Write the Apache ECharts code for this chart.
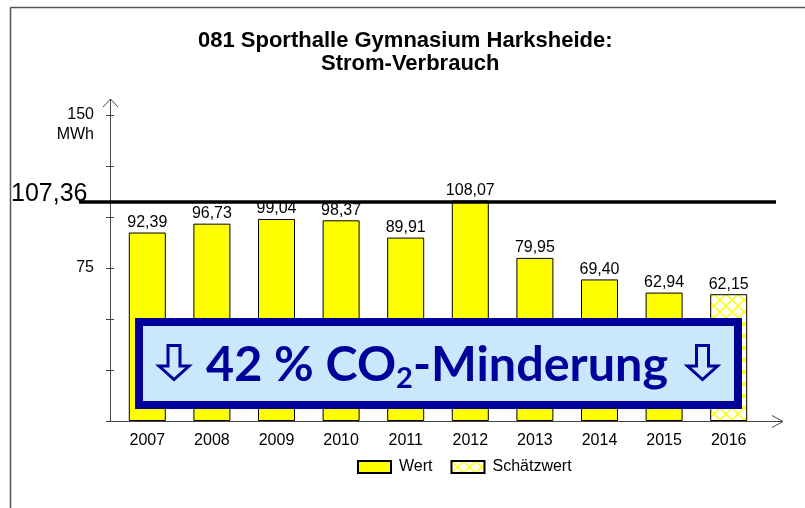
<!DOCTYPE html>
<html>
<head>
<meta charset="utf-8">
<script src="https://cdn.jsdelivr.net/npm/echarts@6/dist/echarts.min.js"></script>
<style>
html, body { margin: 0; padding: 0; background: #fff; }
#main { width: 805px; height: 508px; }
</style>
</head>
<body>
<div id="main"></div>
<script>
var years = ['2007', '2008', '2009', '2010', '2011', '2012', '2013', '2014', '2015', '2016'];
var wert = [92.39, 96.73, 99.04, 98.37, 89.91, 108.07, 79.95, 69.40, 62.94, '-'];
var schaetzwert = ['-', '-', '-', '-', '-', '-', '-', '-', '-', 62.15];
var refValue = 107.36;
var labeledTicks = [75, 150];

var FONT = 'Liberation Sans';
var AXIS = '#454545';
var NAVY = '#00009a';

// gelbe Kreuzschraffur fuer den Schaetzwert
function hatch() {
	var c = document.createElement('canvas');
	c.width = 12; c.height = 12;
	var g = c.getContext('2d');
	g.fillStyle = '#fff';
	g.fillRect(0, 0, 12, 12);
	g.strokeStyle = '#ffff00';
	g.lineWidth = 1.5;
	g.beginPath();
	g.moveTo(0, 0); g.lineTo(12, 12);
	g.moveTo(12, 0); g.lineTo(0, 12);
	g.stroke();
	return c;
}

function fmt(v) {
	return v.toFixed(2).replace('.', ',');
}

// hohler Pfeil nach unten (Deko im Kasten)
function downArrow(cx) {
	return {
		type: 'polygon', z: 101,
		shape: { points: [[cx - 6, 345.5], [cx + 6, 345.5], [cx + 6, 366], [cx + 15, 366], [cx, 379.5], [cx - 15, 366], [cx - 6, 366]] },
		style: { fill: null, stroke: NAVY, lineWidth: 3, lineJoin: 'miter' }
	};
}

var myChart = echarts.init(document.getElementById('main'));

var valueLabel = {
	show: true,
	position: 'top',
	distance: 2,
	fontFamily: FONT,
	fontSize: 16,
	color: '#000',
	formatter: function(p) { return fmt(p.value); }
};

var titleStyle = { fontFamily: FONT, fontSize: 22, fontWeight: 'bold', color: '#000' };

var option = {
	animation: false,
	title: [
		{ text: '081 Sporthalle Gymnasium Harksheide:', left: 193, top: 25, textStyle: titleStyle },
		{ text: 'Strom-Verbrauch', left: 316, top: 48, textStyle: titleStyle }
	],
	legend: {
		left: 352,
		top: 454,
		itemWidth: 33,
		itemHeight: 12,
		itemGap: 18,
		icon: 'rect',
		textStyle: { fontFamily: FONT, fontSize: 16, color: '#000', padding: [0, 0, 0, 3] },
		data: ['Wert', 'Schätzwert']
	},
	grid: { left: 115, right: 44, top: 115, bottom: 87 },
	xAxis: {
		type: 'category',
		data: years,
		axisLine: { show: false },
		axisTick: { alignWithLabel: true, length: 5, lineStyle: { color: AXIS } },
		axisLabel: { margin: 12, fontFamily: FONT, fontSize: 16, color: '#000' }
	},
	yAxis: [{
		type: 'value',
		min: 0, max: 150, interval: 25,
		offset: 1,
		axisLine: { show: false },
		axisTick: { show: true, length: 8, lineStyle: { color: AXIS } },
		splitLine: { show: false },
		axisLabel: {
			margin: 20, fontFamily: FONT, fontSize: 16, color: '#000',
			formatter: function(v) { return labeledTicks.indexOf(v) >= 0 ? String(v) : ''; }
		}
	}, {
		type: 'value',
		position: 'left',
		min: 0, max: 150, interval: 25,
		offset: 1,
		axisLine: { show: false },
		axisTick: { show: false },
		splitLine: { show: false },
		axisLabel: {
			margin: 20, fontFamily: FONT, fontSize: 16, color: '#000',
			verticalAlign: 'top', padding: [12, 0, 0, 0],
			formatter: function(v) { return v === 150 ? 'MWh' : ''; }
		}
	}],
	series: [{
		name: 'Wert',
		type: 'bar',
		data: wert,
		barWidth: 37,
		barGap: '-100%',
		itemStyle: { color: '#ffff00', borderColor: '#000', borderWidth: 1 },
		label: valueLabel
	}, {
		name: 'Schätzwert',
		type: 'bar',
		data: schaetzwert,
		barWidth: 37,
		barGap: '-100%',
		itemStyle: { color: { image: hatch(), repeat: 'repeat' }, borderColor: '#000', borderWidth: 1 },
		label: valueLabel
	}]
};

myChart.setOption(option);

var y0 = Math.round(myChart.convertToPixel({ yAxisIndex: 0 }, 0)) + 0.5;
var yRef = myChart.convertToPixel({ yAxisIndex: 0 }, refValue);
var xAx = 110.5;

myChart.setOption({
	graphic: [
		// Rahmen
		{ type: 'line', z: 50, shape: { x1: 10.5, y1: 7.5, x2: 805, y2: 7.5 }, style: { stroke: '#555', lineWidth: 1.5 } },
		{ type: 'line', z: 50, shape: { x1: 10.5, y1: 7.5, x2: 10.5, y2: 508 }, style: { stroke: '#555', lineWidth: 1.5 } },
		// Achsen mit Pfeilen
		{ type: 'polyline', z: 50, shape: { points: [[xAx, y0], [xAx, 99]] }, style: { stroke: AXIS, lineWidth: 1, fill: null } },
		{ type: 'polyline', z: 50, shape: { points: [[103, 107], [xAx, 99], [118, 107]] }, style: { stroke: AXIS, lineWidth: 1, fill: null } },
		{ type: 'polyline', z: 50, shape: { points: [[xAx, y0], [783, y0]] }, style: { stroke: AXIS, lineWidth: 1, fill: null } },
		{ type: 'polyline', z: 50, shape: { points: [[772, y0 - 6], [783, y0], [772, y0 + 6]] }, style: { stroke: AXIS, lineWidth: 1, fill: null } },
		// Referenzlinie
		{ type: 'line', z: 60, shape: { x1: 79, y1: yRef, x2: 776, y2: yRef }, style: { stroke: '#000', lineWidth: 3.5 } },
		{ type: 'text', z: 60, style: { text: fmt(refValue), x: 11, y: yRef - 8, fontFamily: FONT, fontSize: 25, fill: '#000', align: 'left', verticalAlign: 'middle' } },
		// CO2-Kasten
		{ type: 'rect', z: 100, shape: { x: 139, y: 322, width: 599, height: 83 }, style: { fill: '#c9e8fc', stroke: NAVY, lineWidth: 8 } },
		downArrow(174),
		downArrow(702.5),
		{
			type: 'text', z: 101,
			style: {
				text: '{t|42 % CO}{s|2}{t|-Minderung}',
				x: 437, y: 365,
				align: 'center', verticalAlign: 'middle',
				fill: NAVY,
				rich: {
					t: { fontFamily: 'Lato', fontWeight: 'bold', fontSize: 48.5, fill: NAVY, lineHeight: 56 },
					s: { fontFamily: 'Lato', fontWeight: 'bold', fontSize: 29, fill: NAVY, lineHeight: 28, verticalAlign: 'bottom' }
				}
			}
		}
	]
});
</script>
</body>
</html>
